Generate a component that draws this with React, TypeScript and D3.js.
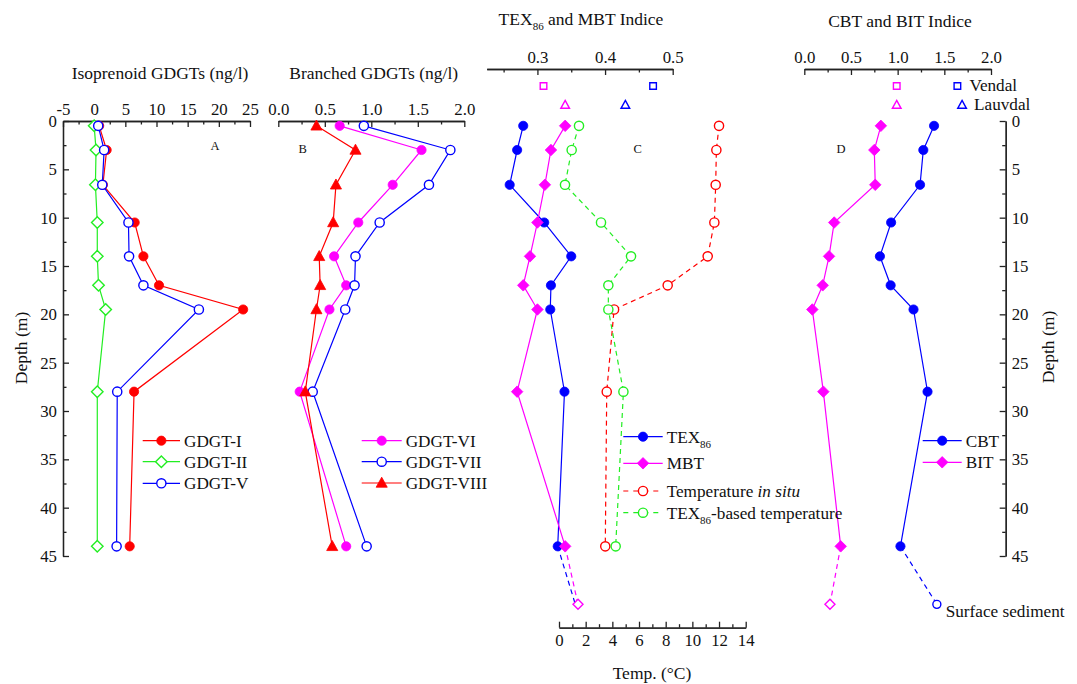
import React, { useEffect, useRef } from 'react';
import * as d3 from 'd3';

// sample depths (m) and values read from the profiles
const depths = [0.5, 3, 6.6, 10.5, 14, 17, 19.5, 28, 44];
const surfaceDepth = 50;

const gdgtI = [0.8, 2.0, 1.4, 6.5, 7.9, 10.4, 23.9, 6.4, 5.7];
const gdgtII = [0.0, 0.3, 0.2, 0.5, 0.5, 0.7, 1.85, 0.5, 0.5];
const gdgtV = [0.65, 1.6, 1.3, 5.5, 5.6, 7.9, 16.8, 3.7, 3.6];

const gdgtVI = [0.66, 1.54, 1.23, 0.86, 0.6, 0.73, 0.55, 0.23, 0.73];
const gdgtVII = [0.92, 1.85, 1.62, 1.09, 0.83, 0.82, 0.72, 0.37, 0.95];
const gdgtVIII = [0.41, 0.83, 0.62, 0.59, 0.44, 0.45, 0.41, 0.29, 0.58];

const tex86 = [0.279, 0.27, 0.259, 0.31, 0.35, 0.32, 0.319, 0.34, 0.33];
const mbt = [0.341, 0.32, 0.311, 0.3, 0.289, 0.279, 0.3, 0.27, 0.341];
const tempInSitu = [12.0, 11.8, 11.75, 11.65, 11.15, 8.15, 4.13, 3.58, 3.47];
const texTemp = [1.5, 0.95, 0.45, 3.15, 5.4, 3.7, 3.7, 4.83, 4.25];

const cbt = [1.39, 1.275, 1.24, 0.93, 0.81, 0.925, 1.17, 1.32, 1.03];
const bit = [0.82, 0.75, 0.76, 0.32, 0.265, 0.197, 0.086, 0.204, 0.39];

// surface sediment
const surfTex = 0.356;
const surfMbt = 0.36;
const surfCbt = 1.42;
const surfBit = 0.275;

// lakes Vendal / Lauvdal
const lakes = ['Vendal', 'Lauvdal'];
const lakeMbt = [0.309, 0.341];
const lakeTex = [0.471, 0.43];
const lakeBit = [0.99, 0.99];
const lakeCbt = [1.64, 1.69];

const depthTicks = d3.range(0, 46, 5);

const RED = '#ff0000';
const GREEN = '#22ee22';
const BLUE = '#0000ff';
const MAG = '#ff00ff';
const FONT = '"Liberation Serif", "Times New Roman", serif';

export default function App() {
  const ref = useRef(null);

  useEffect(() => {
    const svg = d3.select(ref.current);
    svg.selectAll('*').remove();
    document.body.style.margin = '0';

    const y = d3.scaleLinear().domain([0, 45]).range([121, 556]);
    const xA = d3.scaleLinear().domain([-5, 25]).range([63, 250]);
    const xB = d3.scaleLinear().domain([0, 2]).range([278.3, 464.3]);
    const xC = d3.scaleLinear().domain([0.225, 0.5]).range([486.7, 672.7]);
    const xT = d3.scaleLinear().domain([0, 14]).range([559, 745.7]);
    const xD = d3.scaleLinear().domain([0, 2]).range([804.3, 991]);

    const g = svg.append('g').attr('font-family', FONT);

    // ---- axes (ticks point inward) ----
    function axis(gen, major, minor, fmt, tx, ty) {
      const a = g.append('g').attr('transform', `translate(${tx},${ty})`);
      a.call(gen.tickValues(minor).tickSizeInner(-3.5).tickSizeOuter(0).tickFormat(() => ''));
      const b = g.append('g').attr('transform', `translate(${tx},${ty})`);
      b.call(gen.tickValues(major).tickSizeInner(-6).tickSizeOuter(0).tickPadding(6).tickFormat(fmt));
      [a, b].forEach((s) => {
        s.selectAll('path,line').attr('stroke', '#222').attr('stroke-width', 1.3);
        s.selectAll('text').attr('font-family', FONT).attr('font-size', 16.8).attr('fill', '#111');
      });
    }
    const f1 = d3.format('.1f');
    const fInt = (d) => String(d);
    axis(d3.axisTop(xA), d3.range(-5, 26, 5), d3.range(-2.5, 25, 5), fInt, 0, 121);
    axis(d3.axisTop(xB), d3.range(0, 2.01, 0.5), d3.range(0.25, 2, 0.5), f1, 0, 121);
    axis(d3.axisTop(xC), [0.3, 0.4, 0.5], [0.25, 0.35, 0.45], f1, 0, 69);
    axis(d3.axisTop(xD), d3.range(0, 2.01, 0.5), d3.range(0.25, 2, 0.5), f1, 0, 69);
    axis(d3.axisBottom(xT), d3.range(0, 15, 2), d3.range(1, 14, 2), fInt, 0, 627.7);
    axis(d3.axisLeft(y), depthTicks, d3.range(2.5, 45, 5), fInt, 63, 0);
    axis(d3.axisRight(y), depthTicks, d3.range(2.5, 45, 5), fInt, 1005.7, 0);

    // ---- titles ----
    const text = (x, yy, s, size = 17.5, anchor = 'middle') =>
      g.append('text').attr('x', x).attr('y', yy).attr('text-anchor', anchor)
        .attr('font-size', size).attr('fill', '#111').text(s);

    text(160, 79, 'Isoprenoid GDGTs (ng/l)');
    text(373.7, 79, 'Branched GDGTs (ng/l)');
    const tC = g.append('text').attr('x', 581).attr('y', 25).attr('text-anchor', 'middle')
      .attr('font-size', 17.5).attr('fill', '#111');
    tC.append('tspan').text('TEX');
    tC.append('tspan').attr('font-size', 11).attr('dy', 5).text('86');
    tC.append('tspan').attr('dy', -5).text(' and MBT Indice');
    text(900, 27, 'CBT and BIT Indice');
    text(652, 679, 'Temp. (°C)');

    text(215, 150, 'A', 12.5);
    text(302.7, 153, 'B', 12.5);
    text(637.7, 153, 'C', 12.5);
    text(841, 153, 'D', 12.5);

    g.append('text').attr('transform', 'translate(27,348) rotate(-90)')
      .attr('text-anchor', 'middle').attr('font-size', 17.5).attr('fill', '#111').text('Depth (m)');
    g.append('text').attr('transform', 'translate(1054,347) rotate(-90)')
      .attr('text-anchor', 'middle').attr('font-size', 17.5).attr('fill', '#111').text('Depth (m)');

    // ---- markers ----
    function marker(px, py, type, color, filled, r = 4.6) {
      let d;
      if (type === 'circle') d = `M${-r},0a${r},${r} 0 1,0 ${2 * r},0a${r},${r} 0 1,0 ${-2 * r},0Z`;
      else if (type === 'diamond') { const q = r * 1.25; d = `M0,${-q}L${q},0L0,${q}L${-q},0Z`; }
      else if (type === 'triangle') { const q = r * 1.15; d = `M0,${-q * 1.1}L${q * 1.05},${q * 0.8}L${-q * 1.05},${q * 0.8}Z`; }
      else { const q = r; d = `M${-q},${-q}H${q}V${q}H${-q}Z`; }
      g.append('path').attr('transform', `translate(${px},${py})`).attr('d', d)
        .attr('fill', filled ? color : '#fff').attr('stroke', color)
        .attr('stroke-width', filled ? 0.8 : 1.4);
    }

    function series(vals, x, color, type, filled, dashed = false) {
      const line = d3.line().x((d) => x(d[0])).y((d) => y(d[1]));
      const pts = vals.map((v, i) => [v, depths[i]]);
      g.append('path').attr('d', line(pts)).attr('fill', 'none').attr('stroke', color)
        .attr('stroke-width', 1.2).attr('stroke-dasharray', dashed ? '5,4' : null);
      pts.forEach((p) => marker(x(p[0]), y(p[1]), type, color, filled));
    }

    function surface(last, val, x, color, type) {
      g.append('path')
        .attr('d', d3.line()([[x(last), y(depths[depths.length - 1])], [x(val), y(surfaceDepth)]]))
        .attr('fill', 'none').attr('stroke', color).attr('stroke-width', 1.2).attr('stroke-dasharray', '5,4');
      if (type) marker(x(val), y(surfaceDepth), type, color, false, 4);
    }

    // panel A
    series(gdgtI, xA, RED, 'circle', true);
    series(gdgtII, xA, GREEN, 'diamond', false);
    series(gdgtV, xA, BLUE, 'circle', false);

    // panel B
    series(gdgtVI, xB, MAG, 'circle', true);
    series(gdgtVII, xB, BLUE, 'circle', false);
    series(gdgtVIII, xB, RED, 'triangle', true);

    // panel C
    surface(tex86[tex86.length - 1], surfTex, xC, BLUE, null);
    surface(mbt[mbt.length - 1], surfMbt, xC, MAG, 'diamond');
    series(tex86, xC, BLUE, 'circle', true);
    series(mbt, xC, MAG, 'diamond', true);
    series(tempInSitu, xT, RED, 'circle', false, true);
    series(texTemp, xT, GREEN, 'circle', false, true);

    // panel D
    surface(cbt[cbt.length - 1], surfCbt, xD, BLUE, 'circle');
    surface(bit[bit.length - 1], surfBit, xD, MAG, 'diamond');
    series(cbt, xD, BLUE, 'circle', true);
    series(bit, xD, MAG, 'diamond', true);
    text(945.7, 617, 'Surface sediment', 17.2, 'start');

    // lakes
    const lakeRows = [86, 105];
    lakes.forEach((name, i) => {
      const t = i === 0 ? 'square' : 'triangle';
      const r = i === 0 ? 3.3 : 3.6;
      marker(xC(lakeMbt[i]), lakeRows[i], t, MAG, false, r);
      marker(xC(lakeTex[i]), lakeRows[i], t, BLUE, false, r);
      marker(xD(lakeBit[i]), lakeRows[i], t, MAG, false, r);
      marker(xD(lakeCbt[i]), lakeRows[i], t, BLUE, false, r);
      text(xD(lakeCbt[i]) + 12, lakeRows[i] + 5, name, 17.2, 'start');
    });

    // ---- legends ----
    function legend(x0, x1, rows, items) {
      items.forEach((it, i) => {
        const yy = rows[i];
        g.append('line').attr('x1', x0).attr('x2', x1).attr('y1', yy).attr('y2', yy)
          .attr('stroke', it.color).attr('stroke-width', 1.2)
          .attr('stroke-dasharray', it.dashed ? '5,5' : null);
        marker((x0 + x1) / 2, yy, it.type, it.color, it.filled);
        const t = g.append('text').attr('x', x1 + 4).attr('y', yy + 5.8)
          .attr('font-size', 17.2).attr('fill', '#111');
        it.label(t);
      });
    }
    const plain = (s) => (t) => t.text(s);
    const texLabel = (rest) => (t) => {
      t.append('tspan').text('TEX');
      t.append('tspan').attr('font-size', 11).attr('dy', 5).text('86');
      if (rest) t.append('tspan').attr('dy', -5).text(rest);
    };

    legend(142.7, 180, [440.7, 461.7, 483.3], [
      { color: RED, type: 'circle', filled: true, label: plain('GDGT-I') },
      { color: GREEN, type: 'diamond', filled: false, label: plain('GDGT-II') },
      { color: BLUE, type: 'circle', filled: false, label: plain('GDGT-V') },
    ]);
    legend(361.7, 401.7, [440.7, 461.7, 483], [
      { color: MAG, type: 'circle', filled: true, label: plain('GDGT-VI') },
      { color: BLUE, type: 'circle', filled: false, label: plain('GDGT-VII') },
      { color: RED, type: 'triangle', filled: true, label: plain('GDGT-VIII') },
    ]);
    legend(623.3, 662.7, [436.7, 463.3, 491, 512.7], [
      { color: BLUE, type: 'circle', filled: true, label: texLabel(null) },
      { color: MAG, type: 'diamond', filled: true, label: plain('MBT') },
      { color: RED, type: 'circle', filled: false, dashed: true, label: (t) => {
        t.append('tspan').text('Temperature ');
        t.append('tspan').attr('font-style', 'italic').text('in situ');
      } },
      { color: GREEN, type: 'circle', filled: false, dashed: true, label: texLabel('-based temperature') },
    ]);
    legend(922.7, 961.7, [440.7, 462.3], [
      { color: BLUE, type: 'circle', filled: true, label: plain('CBT') },
      { color: MAG, type: 'diamond', filled: true, label: plain('BIT') },
    ]);
  });

  return (
    <div>
      <svg ref={ref} width={1077} height={684} style={{ position: 'absolute', left: 0, top: 0, background: '#fff' }} />
    </div>
  );
}
